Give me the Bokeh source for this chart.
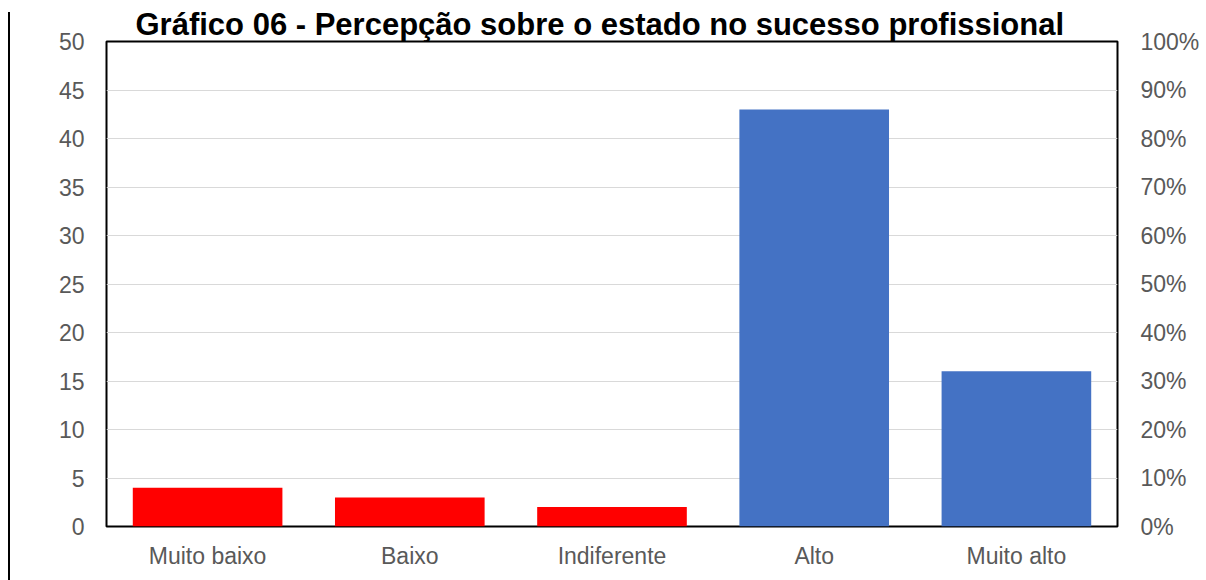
from bokeh.plotting import figure
from bokeh.models import (ColumnDataSource, Range1d, LinearAxis, SingleIntervalTicker,
                          NumeralTickFormatter, InlineStyleSheet)
from bokeh.embed import file_html
from bokeh.resources import INLINE

title_text = "Gráfico 06 - Percepção sobre o estado no sucesso profissional"
categories = ["Muito baixo", "Baixo", "Indiferente", "Alto", "Muito alto"]
counts = [4, 3, 2, 43, 16]
bar_colors = ["#FF0000", "#FF0000", "#FF0000", "#4472C4", "#4472C4"]

FONT = "Liberation Sans"
GRAY = "#595959"
LBL = "23px"

src = ColumnDataSource(dict(cat=categories, val=counts, color=bar_colors))

FL, FT, FW, FH = 106, 41, 1011, 485
p = figure(x_range=categories, y_range=Range1d(0, 50),
           frame_width=FW, frame_height=FH,
           min_border_left=FL, min_border_right=1206 - FL - FW,
           min_border_top=FT, min_border_bottom=580 - FT - FH,
           output_backend="svg", toolbar_location=None,
           title=title_text)
p.background_fill_color = "white"
p.border_fill_color = "white"
p.outline_line_color = "black"
p.outline_line_width = 2

p.title.align = "left"
p.title.offset = 29
p.title.standoff = 0
p.title.text_font = FONT
p.title.text_font_style = "bold"
p.title.text_font_size = "31px"
p.title.text_color = "black"

p.vbar(x="cat", top="val", width=0.74, color="color", source=src, line_color=None)

p.xgrid.visible = False
p.ygrid.grid_line_color = "#D9D9D9"
p.ygrid.grid_line_width = 1
p.ygrid.ticker = SingleIntervalTicker(interval=5)

yax = p.yaxis[0]
yax.ticker = SingleIntervalTicker(interval=5)

p.extra_y_ranges = {"pct": Range1d(0, 1)}
rax = LinearAxis(y_range_name="pct", ticker=SingleIntervalTicker(interval=0.1),
                 formatter=NumeralTickFormatter(format="0%"))
p.add_layout(rax, "right")

for ax in (yax, p.xaxis[0], rax):
    ax.axis_line_color = None
    ax.major_tick_line_color = None
    ax.minor_tick_line_color = None
    ax.major_tick_out = 0
    ax.major_tick_in = 0
    ax.minor_tick_out = 0
    ax.major_label_text_font = FONT
    ax.major_label_text_font_size = LBL
    ax.major_label_text_color = GRAY
yax.major_label_standoff = 22
rax.major_label_standoff = 23
p.xaxis[0].major_label_standoff = 16

# chart-area border: left edge as in the reference
p.stylesheets = [InlineStyleSheet(css=(
    ":host::after { content: ''; position: absolute; left: 8px; top: 12px; "
    "bottom: 0px; width: 2px; background: black; pointer-events: none; z-index: 10; }"))]

open("out.html", "w").write(file_html(p, INLINE))
